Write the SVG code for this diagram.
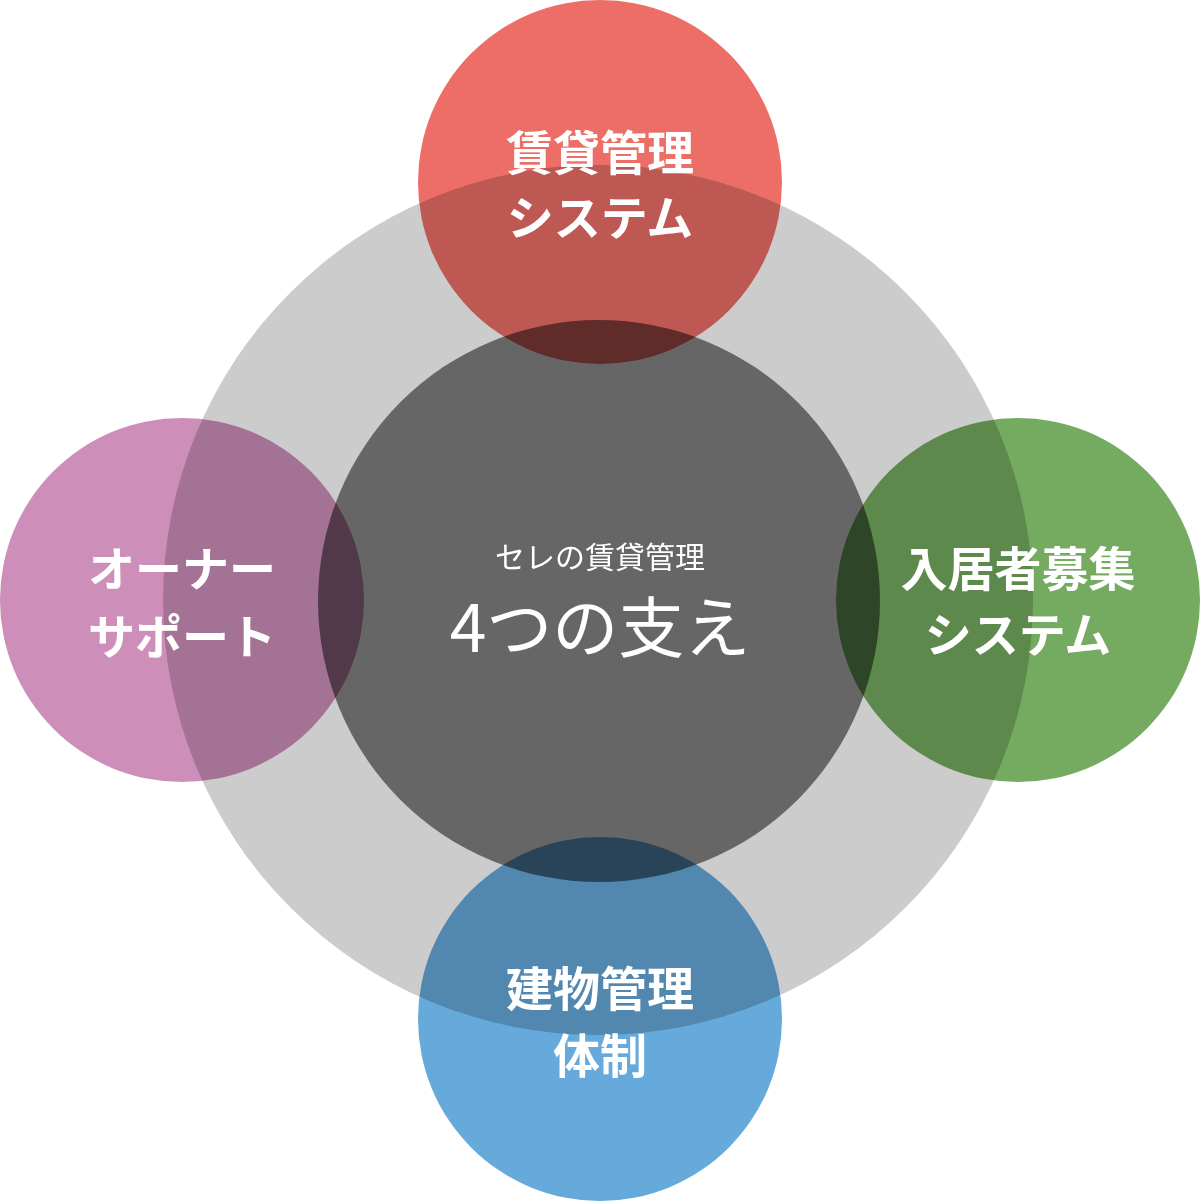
<svg xmlns="http://www.w3.org/2000/svg" width="1200" height="1201" viewBox="0 0 1200 1201">
<style>
.c{mix-blend-mode:multiply}
.t{fill:#fff;font-family:"Noto Sans CJK JP","Liberation Serif",sans-serif;font-weight:bold;text-anchor:middle}
.l{font-size:47px}
</style>
<rect width="1200" height="1201" fill="#fff"/>
<g id="outer"><circle cx="598" cy="600" r="435" fill="#cccccc"/></g>
<g id="center"><circle cx="599" cy="601" r="281" fill="#666666"/></g>
<g id="top"><circle class="c" cx="600" cy="182" r="182" fill="#ec6e66"/>
<text class="t l" x="600" y="170">賃貸管理</text><text class="t l" x="600" y="235">システム</text></g>
<g id="left"><circle class="c" cx="182" cy="600" r="182" fill="#cd8fb9"/>
<text class="t l" x="182" y="586">オーナー</text><text class="t l" x="182" y="654">サポート</text></g>
<g id="right"><circle class="c" cx="1018" cy="600" r="182" fill="#75ab60"/>
<text class="t l" x="1018" y="586">入居者募集</text><text class="t l" x="1018" y="652">システム</text></g>
<g id="bottom"><circle class="c" cx="600" cy="1019" r="182" fill="#66aadb"/>
<text class="t l" x="600" y="1006">建物管理</text><text class="t l" x="600" y="1073">体制</text></g>
<g id="label"><text class="t" style="font-weight:normal" font-size="30" x="600" y="568">セレの賃貸管理</text>
<text class="t" style="font-weight:normal" font-size="66" x="600" y="652">4つの支え</text></g>
<g id="connectors"/>
</svg>
